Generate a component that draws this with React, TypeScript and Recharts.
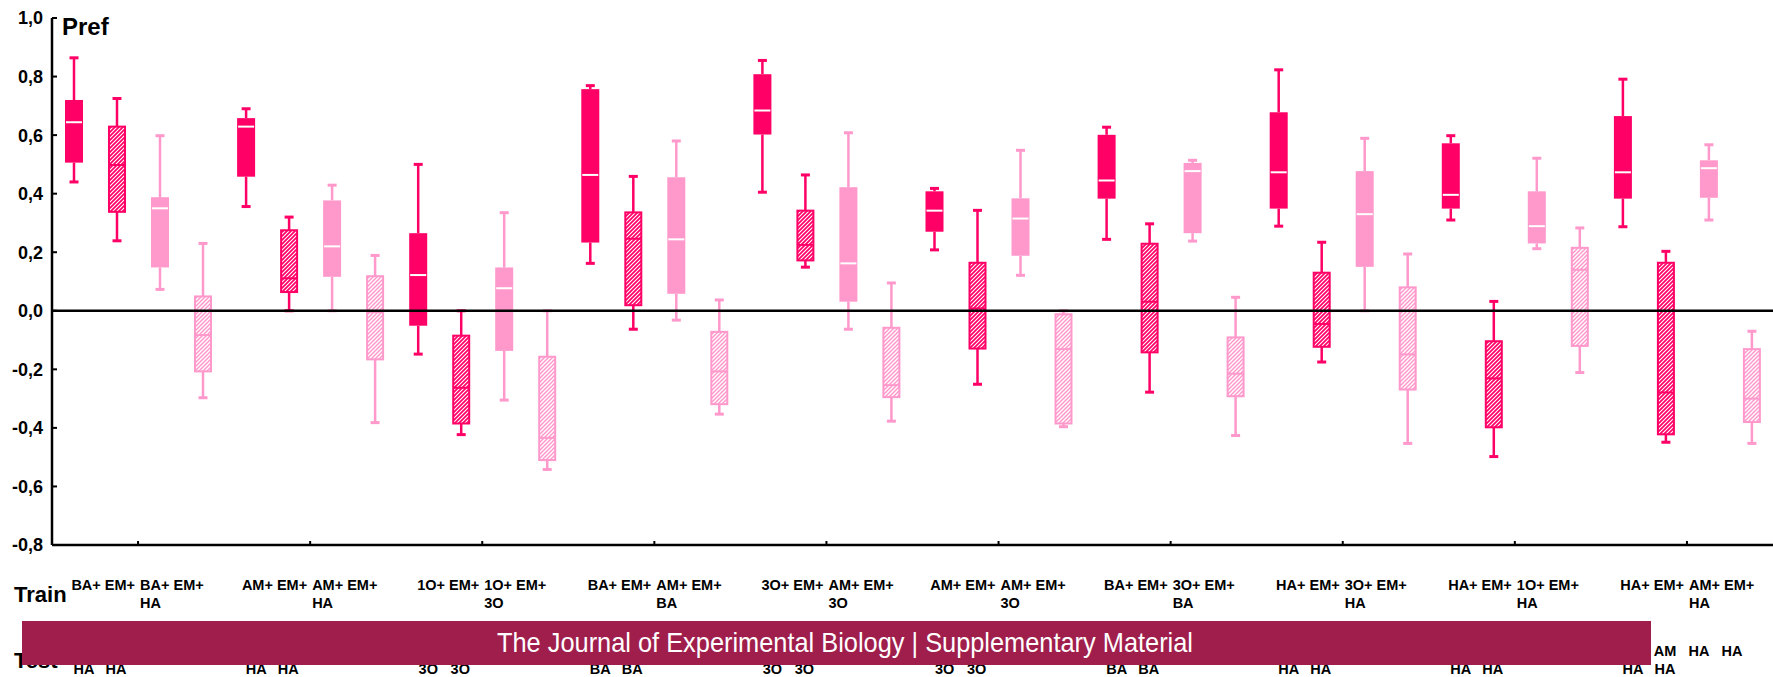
import { Bar, ComposedChart, ReferenceLine, XAxis, YAxis } from 'recharts';

const DARK = '#ff0066';
const LIGHT = '#ff99cc';
const FONT = "'Liberation Sans', Arial, sans-serif";

const groups = ['g1', 'g2', 'g3', 'g4', 'g5', 'g6', 'g7', 'g8', 'g9', 'g10'];
const trainLeft = ['BA+ EM+', 'AM+ EM+', '1O+ EM+', 'BA+ EM+', '3O+ EM+', 'AM+ EM+', 'BA+ EM+', 'HA+ EM+', 'HA+ EM+', 'HA+ EM+'];
const trainRight = ['BA+ EM+', 'AM+ EM+', '1O+ EM+', 'AM+ EM+', 'AM+ EM+', 'AM+ EM+', '3O+ EM+', '3O+ EM+', '1O+ EM+', 'AM+ EM+'];
const trainRightSub = ['HA', 'HA', '3O', 'BA', '3O', '3O', 'BA', 'HA', 'HA', 'HA'];
const testSub = ['HA', 'HA', '3O', 'BA', '3O', '3O', 'BA', 'HA', 'HA', 'HA'];
// first test line is hidden under the banner except in the last group
const testTop = [
  ['', '', '', ''], ['', '', '', ''], ['', '', '', ''], ['', '', '', ''], ['', '', '', ''],
  ['', '', '', ''], ['', '', '', ''], ['', '', '', ''], ['', '', '', ''], ['', 'AM', 'HA', 'HA'],
];
const yTicks = [-0.8, -0.6, -0.4, -0.2, 0, 0.2, 0.4, 0.6, 0.8, 1.0];

// [whisker low, Q1, median, Q3, whisker high]
const darkSolid = [
  [0.44, 0.506, 0.644, 0.72, 0.864],
  [0.356, 0.458, 0.629, 0.658, 0.69],
  [-0.148, -0.051, 0.122, 0.265, 0.5],
  [0.162, 0.233, 0.464, 0.757, 0.769],
  [0.405, 0.602, 0.684, 0.808, 0.855],
  [0.208, 0.27, 0.342, 0.408, 0.418],
  [0.244, 0.383, 0.445, 0.601, 0.627],
  [0.289, 0.349, 0.473, 0.678, 0.823],
  [0.31, 0.349, 0.396, 0.572, 0.598],
  [0.287, 0.383, 0.473, 0.665, 0.791],
];
const darkHatched = [
  [0.239, 0.338, 0.498, 0.629, 0.725],
  [0.0, 0.064, 0.111, 0.275, 0.32],
  [-0.423, -0.385, -0.263, -0.085, 0.0],
  [-0.063, 0.019, 0.246, 0.336, 0.459],
  [0.149, 0.172, 0.225, 0.342, 0.464],
  [-0.251, -0.129, 0.008, 0.164, 0.343],
  [-0.278, -0.142, 0.031, 0.229, 0.297],
  [-0.175, -0.123, -0.045, 0.13, 0.234],
  [-0.498, -0.398, -0.231, -0.104, 0.032],
  [-0.449, -0.422, -0.279, 0.164, 0.203],
];
const lightSolid = [
  [0.073, 0.148, 0.35, 0.388, 0.598],
  [0.0, 0.116, 0.22, 0.377, 0.429],
  [-0.305, -0.137, 0.077, 0.148, 0.335],
  [-0.032, 0.058, 0.244, 0.456, 0.58],
  [-0.063, 0.031, 0.162, 0.422, 0.608],
  [0.121, 0.188, 0.315, 0.384, 0.548],
  [0.238, 0.265, 0.477, 0.505, 0.514],
  [0.0, 0.15, 0.33, 0.477, 0.589],
  [0.212, 0.23, 0.289, 0.408, 0.521],
  [0.31, 0.386, 0.487, 0.514, 0.567],
];
const lightHatched = [
  [-0.297, -0.207, -0.083, 0.049, 0.23],
  [-0.382, -0.166, -0.005, 0.118, 0.189],
  [-0.542, -0.51, -0.434, -0.157, 0.0],
  [-0.353, -0.319, -0.207, -0.072, 0.037],
  [-0.377, -0.295, -0.254, -0.058, 0.095],
  [-0.396, -0.385, -0.131, -0.012, 0.0],
  [-0.426, -0.292, -0.215, -0.091, 0.046],
  [-0.453, -0.269, -0.149, 0.08, 0.194],
  [-0.211, -0.12, 0.14, 0.215, 0.283],
  [-0.453, -0.38, -0.3, -0.131, -0.07],
];

const data = groups.map((group, i) => ({
  group,
  ds: darkSolid[i],
  dh: darkHatched[i],
  ls: lightSolid[i],
  lh: lightHatched[i],
}));

const series = [
  { key: 'ds', color: DARK, hatch: '' },
  { key: 'dh', color: DARK, hatch: 'hatchDark' },
  { key: 'ls', color: LIGHT, hatch: '' },
  { key: 'lh', color: LIGHT, hatch: 'hatchLight' },
];

function BoxShape(props: any) {
  const { x, y, width, height, stats, color, hatch } = props;
  if (!stats || x == null) return null;
  const [lo, q1, med, q3, hi] = stats;
  const top = Math.min(y, y + height);
  const bottom = Math.max(y, y + height);
  const py = (v: number) => top + ((hi - v) / (hi - lo)) * (bottom - top);
  const cx = x + width / 2;
  const boxTop = py(q3);
  const boxBottom = py(q1);
  return (
    <g>
      <line x1={cx} x2={cx} y1={py(hi)} y2={boxTop} stroke={color} strokeWidth={2.5} />
      <line x1={cx} x2={cx} y1={boxBottom} y2={py(lo)} stroke={color} strokeWidth={2.5} />
      <line x1={cx - 4.5} x2={cx + 4.5} y1={py(hi)} y2={py(hi)} stroke={color} strokeWidth={3} />
      <line x1={cx - 4.5} x2={cx + 4.5} y1={py(lo)} y2={py(lo)} stroke={color} strokeWidth={3} />
      {hatch ? (
        <rect x={x + 1} y={boxTop} width={width - 2} height={boxBottom - boxTop} fill={`url(#${hatch})`} stroke={color} strokeWidth={2} />
      ) : (
        <rect x={x} y={boxTop} width={width} height={boxBottom - boxTop} fill={color} />
      )}
      <line x1={x + 1} x2={x + width - 1} y1={py(med)} y2={py(med)} stroke={hatch ? color : '#fff'} strokeWidth={2} />
    </g>
  );
}

function YTick(props: any) {
  const { x, y, payload } = props;
  const label = Number(payload.value).toFixed(1).replace('.', ',');
  return (
    <g>
      <line x1={x} x2={x + 5} y1={y} y2={y} stroke="#000" strokeWidth={2} />
      <text x={x - 9} y={y} dy="0.36em" textAnchor="end" fontFamily={FONT} fontWeight="bold" fontSize={18} fill="#000">
        {label}
      </text>
    </g>
  );
}

function XTick(props: any) {
  const { x, y, payload } = props;
  const i = props.index ?? payload.index ?? 0;
  const txt = { fontFamily: FONT, fontWeight: 'bold' as const, fontSize: 14.5, fill: '#000' };
  const offsets = [-54, -22, 12, 45];
  return (
    <g>
      <line x1={x} x2={x} y1={y} y2={y - 4} stroke="#000" strokeWidth={2} />
      <text x={x - 3} y={y + 44.5} textAnchor="end" {...txt}>{trainLeft[i]}</text>
      <text x={x + 2} y={y + 44.5} textAnchor="start" {...txt}>{trainRight[i]}</text>
      <text x={x + 2} y={y + 62.5} textAnchor="start" {...txt}>{trainRightSub[i]}</text>
      {testTop[i].map((t, k) => (t ? (
        <text key={k} x={x + offsets[k]} y={y + 110.5} textAnchor="middle" {...txt}>{t}</text>
      ) : null))}
      <text x={x + offsets[0]} y={y + 129} textAnchor="middle" {...txt}>{testSub[i]}</text>
      <text x={x + offsets[1]} y={y + 129} textAnchor="middle" {...txt}>{testSub[i]}</text>
    </g>
  );
}

export default function App() {
  return (
    <div style={{ position: 'absolute', left: 0, top: 0, width: 1773, height: 677, background: '#fff', overflow: 'hidden' }}>
      <svg width={0} height={0} style={{ position: 'absolute' }}>
        <defs>
          <pattern id="hatchDark" patternUnits="userSpaceOnUse" width={4} height={4}>
            <rect width={4} height={4} fill={DARK} />
            <path d="M-1,1 l2,-2 M0,4 l4,-4 M3,5 l2,-2" stroke="#fff" strokeWidth={1.1} />
          </pattern>
          <pattern id="hatchLight" patternUnits="userSpaceOnUse" width={4} height={4}>
            <rect width={4} height={4} fill={LIGHT} />
            <path d="M-1,1 l2,-2 M0,4 l4,-4 M3,5 l2,-2" stroke="#fff" strokeWidth={1.3} />
          </pattern>
        </defs>
      </svg>
      <ComposedChart
        width={1773}
        height={677}
        data={data}
        margin={{ top: 18, right: 0, bottom: 0, left: 0 }}
        barGap={25}
        barSize={18}
      >
        <XAxis
          dataKey="group"
          height={132}
          interval={0}
          axisLine={{ stroke: '#000', strokeWidth: 2.5 }}
          tickLine={false}
          tickSize={0}
          tickMargin={0}
          tick={<XTick />}
        />
        <YAxis
          type="number"
          domain={[-0.8, 1]}
          ticks={yTicks}
          interval={0}
          width={52}
          allowDataOverflow
          axisLine={{ stroke: '#000', strokeWidth: 2.5 }}
          tickLine={false}
          tickSize={0}
          tickMargin={0}
          tick={<YTick />}
        />
        <ReferenceLine y={0} stroke="#000" strokeWidth={2.5} />
        {series.map((s) => (
          <Bar
            key={s.key}
            dataKey={(d: any) => [d[s.key][0], d[s.key][4]]}
            barSize={18}
            isAnimationActive={false}
            shape={(p: any) => <BoxShape {...p} stats={p.payload ? p.payload[s.key] : null} color={s.color} hatch={s.hatch} />}
          />
        ))}
      </ComposedChart>
      <svg width={1773} height={677} style={{ position: 'absolute', left: 0, top: 0, pointerEvents: 'none' }}>
        <text x={62} y={35} fontFamily={FONT} fontWeight="bold" fontSize={24} fill="#000">Pref</text>
        <text x={14} y={602} fontFamily={FONT} fontWeight="bold" fontSize={22} fill="#000">Train</text>
        <text x={14} y={668} fontFamily={FONT} fontWeight="bold" fontSize={22} fill="#000">Test</text>
        <rect x={22} y={621} width={1629} height={44} fill="#a01e4c" />
        <text x={845} y={652} textAnchor="middle" fontFamily={FONT} fontSize={28} fill="#fff" textLength={696} lengthAdjust="spacingAndGlyphs">
          The Journal of Experimental Biology | Supplementary Material
        </text>
      </svg>
    </div>
  );
}
